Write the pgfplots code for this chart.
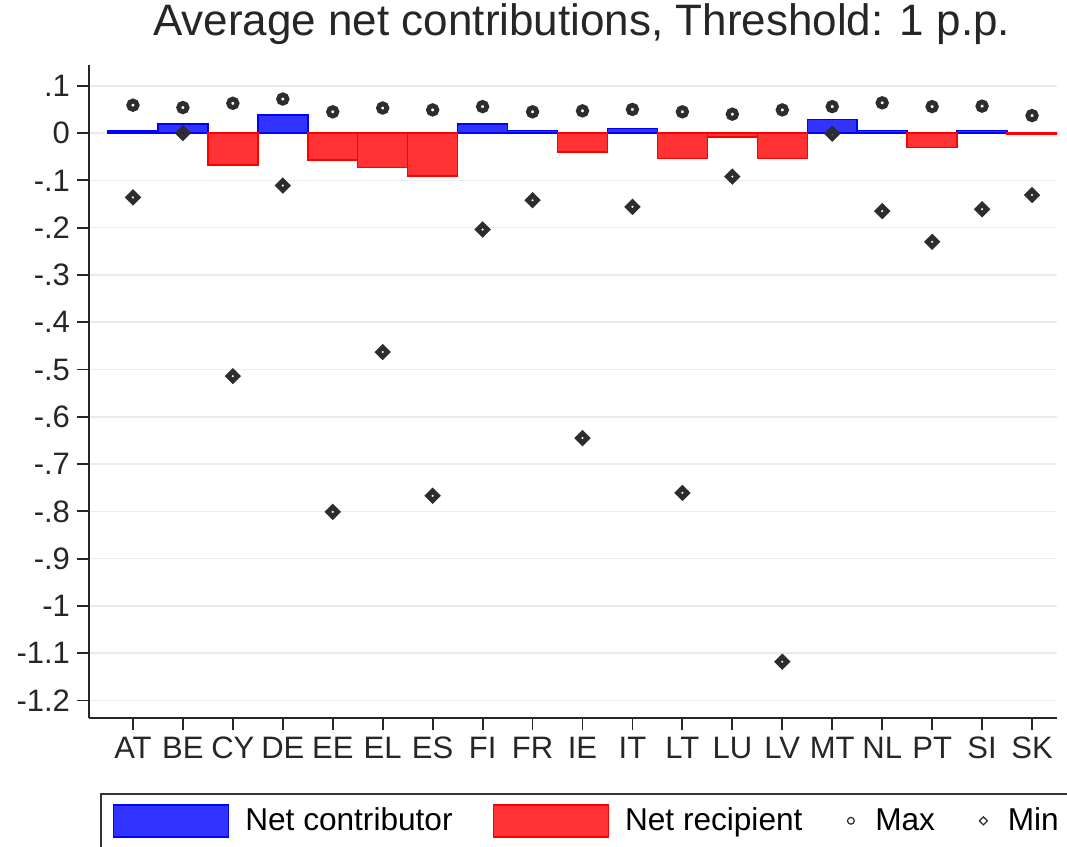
\documentclass[border=0pt]{standalone}
\usepackage{pgfplots}
\pgfplotsset{compat=1.18}
\usepackage{fontspec}
\setmainfont{Liberation Sans}
\definecolor{barblue}{RGB}{51,51,255}
\definecolor{barred}{RGB}{255,51,51}
\definecolor{mk}{RGB}{45,45,45}
\definecolor{gridc}{RGB}{232,236,239}
\begin{document}
\begin{tikzpicture}
\begin{axis}[
  name=ax,
  scale only axis, width=484pt, height=326.5pt,
  xmin=-0.88, xmax=18.5, ymin=-1.237, ymax=0.144,
  axis x line*=bottom, axis y line*=left,
  axis line style={line width=1pt, black!85},
  xtick={0,...,18},
  xticklabels={AT,BE,CY,DE,EE,EL,ES,FI,FR,IE,IT,LT,LU,LV,MT,NL,PT,SI,SK},
  ytick={-1.2,-1.1,-1,-0.9,-0.8,-0.7,-0.6,-0.5,-0.4,-0.3,-0.2,-0.1,0,0.1},
  yticklabels={-1.2,-1.1,-1,-.9,-.8,-.7,-.6,-.5,-.4,-.3,-.2,-.1,0,.1},
  tick align=outside, major tick length=6pt,
  tick style={black!85, line width=0.9pt},
  ymajorgrids, grid style={gridc, line width=0.75pt},
  tick label style={font=\fontsize{15.5}{18}\selectfont, text=black!85},
  title={Average net contributions, Threshold: 1 p.p.},
  title style={font=\fontsize{22}{26}\selectfont, text=black!85, at={(0.509,1)}, anchor=base, yshift=8.5pt},
  legend style={at={(0.0114,-0.1149)}, anchor=north west, legend columns=4,
    draw=black!80, line width=0.8pt, font=\fontsize{15.8}{18}\selectfont,
    inner xsep=6pt, inner ysep=5pt,
    /tikz/every odd column/.append style={column sep=6pt},
    /tikz/every even column/.append style={column sep=18pt}},
  legend cell align=left,
]
\addplot[ybar, bar width=1, bar shift=0pt, fill=barblue, draw=blue, line width=0.75pt,
  legend image code/.code={\draw[fill=barblue, draw=blue, line width=0.75pt] (0pt,-8pt) rectangle (57.5pt,8pt);}]
  coordinates {(0,0.004) (1,0.019) (3,0.038) (7,0.019) (8,0.005) (10,0.010) (14,0.029) (15,0.005) (17,0.005)};
\addlegendentry{Net contributor}
\addplot[ybar, bar width=1, bar shift=0pt, fill=barred, draw=red, line width=0.75pt,
  legend image code/.code={\draw[fill=barred, draw=red, line width=0.75pt] (0pt,-8pt) rectangle (57.5pt,8pt);}]
  coordinates {(2,-0.068) (4,-0.057) (5,-0.073) (6,-0.091) (9,-0.040) (11,-0.054) (12,-0.008) (13,-0.054) (16,-0.030) (18,-0.002)};
\addlegendentry{Net recipient}
\addplot[only marks, mark=o, mark size=2.1pt, draw=mk, line width=2.4pt,
  legend image code/.code={\path (0pt,0pt) (6pt,0pt); \draw[mk, line width=0.6pt] (3pt,0pt) circle (1.7pt);}]
  coordinates {(0,0.059) (1,0.054) (2,0.063) (3,0.072) (4,0.045) (5,0.053) (6,0.049) (7,0.056) (8,0.045) (9,0.047) (10,0.050) (11,0.045) (12,0.040) (13,0.049) (14,0.056) (15,0.064) (16,0.056) (17,0.057) (18,0.037)};
\addlegendentry{Max}
\addplot[only marks, mark=square, mark size=1.7pt, mark options={rotate=45}, draw=mk, line width=2.4pt,
  legend image code/.code={\path (0pt,0pt) (6pt,0pt); \draw[mk, line width=0.6pt] (3pt,2pt) -- (5pt,0pt) -- (3pt,-2pt) -- (1pt,0pt) -- cycle;}]
  coordinates {(0,-0.136) (1,0.000) (2,-0.514) (3,-0.111) (4,-0.801) (5,-0.463) (6,-0.767) (7,-0.204) (8,-0.142) (9,-0.645) (10,-0.156) (11,-0.761) (12,-0.092) (13,-1.118) (14,-0.001) (15,-0.165) (16,-0.230) (17,-0.161) (18,-0.131)};
\addlegendentry{Min}
\end{axis}
\pgfresetboundingbox
\path ([shift={(-44.5pt,-64pt)}]ax.south west) rectangle ([shift={(5pt,32.5pt)}]ax.north east);
\end{tikzpicture}
\end{document}
